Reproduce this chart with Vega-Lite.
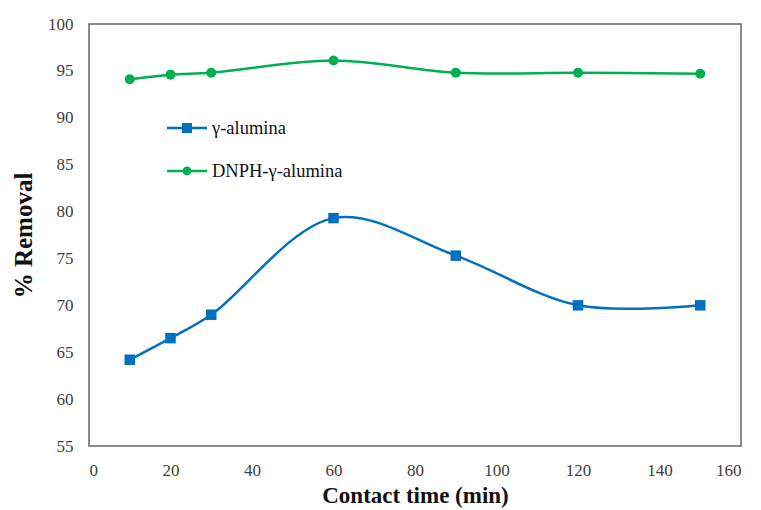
{
  "$schema": "https://vega.github.io/schema/vega-lite/v6.json",
  "width": 652,
  "height": 422,
  "autosize": "none",
  "padding": {"left": 89, "top": 24, "right": 20, "bottom": 64},
  "background": "white",
  "config": {
    "font": "Liberation Serif",
    "view": {"stroke": "#666666", "strokeWidth": 1.5},
    "axis": {"grid": false, "domain": false, "ticks": false, "tickSize": 0, "labelFont": "Liberation Serif", "labelFontSize": 17, "labelColor": "#404040", "titleFont": "Liberation Serif", "titleFontWeight": "bold", "titleColor": "#111111"}
  },
  "data": {
    "values": [
      {"t": 10, "r": 64.2, "s": "γ-alumina"},
      {"t": 20, "r": 66.5, "s": "γ-alumina"},
      {"t": 30, "r": 69.0, "s": "γ-alumina"},
      {"t": 60, "r": 79.3, "s": "γ-alumina"},
      {"t": 90, "r": 75.3, "s": "γ-alumina"},
      {"t": 120, "r": 70.0, "s": "γ-alumina"},
      {"t": 150, "r": 70.0, "s": "γ-alumina"},
      {"t": 10, "r": 94.1, "s": "DNPH-γ-alumina"},
      {"t": 20, "r": 94.6, "s": "DNPH-γ-alumina"},
      {"t": 30, "r": 94.8, "s": "DNPH-γ-alumina"},
      {"t": 60, "r": 96.1, "s": "DNPH-γ-alumina"},
      {"t": 90, "r": 94.8, "s": "DNPH-γ-alumina"},
      {"t": 120, "r": 94.8, "s": "DNPH-γ-alumina"},
      {"t": 150, "r": 94.7, "s": "DNPH-γ-alumina"}
    ]
  },
  "encoding": {
    "x": {"field": "t", "type": "quantitative", "title": "Contact time (min)", "scale": {"domain": [0, 160], "nice": false}, "axis": {"values": [0, 20, 40, 60, 80, 100, 120, 140, 160], "labelPadding": 16, "titleFontSize": 23, "titlePadding": 6}},
    "y": {"field": "r", "type": "quantitative", "title": "% Removal", "scale": {"domain": [55, 100], "nice": false, "zero": false}, "axis": {"values": [55, 60, 65, 70, 75, 80, 85, 90, 95, 100], "labelPadding": 16, "titleFontSize": 25, "titlePadding": 11}},
    "color": {"field": "s", "type": "nominal", "scale": {"domain": ["γ-alumina", "DNPH-γ-alumina"], "range": ["#0070C0", "#00B050"]},
      "legend": {
        "title": null, "orient": "none", "legendX": 78, "legendY": 84,
        "symbolSize": 1600, "labelFontSize": 18.5, "labelFont": "Liberation Serif", "labelColor": "#111111", "labelOffset": 5, "rowPadding": 13,
        "encode": {"symbols": {"update": {
          "shape": {"signal": "datum.value === 'γ-alumina' ? 'M-1,-0.06H-0.25V0.06H-1Z M0.25,-0.06H1V0.06H0.25Z M-0.25,-0.25H0.25V0.25H-0.25Z' : 'M-1,-0.06H-0.22V0.06H-1Z M0.22,-0.06H1V0.06H0.22Z M-0.22,0A0.22,0.22 0 1,0 0.22,0A0.22,0.22 0 1,0 -0.22,0Z'"},
          "fill": {"scale": "color", "field": "value"},
          "stroke": {"value": "transparent"},
          "strokeWidth": {"value": 0},
          "opacity": {"value": 1}
        }}}
      }}
  },
  "layer": [
    {
      "mark": {"type": "line", "interpolate": "catmull-rom", "strokeWidth": 2.5}
    },
    {
      "transform": [{"filter": "datum.s === 'γ-alumina'"}],
      "mark": {"type": "point", "shape": "square", "filled": true, "opacity": 1, "size": 110}
    },
    {
      "transform": [{"filter": "datum.s === 'DNPH-γ-alumina'"}],
      "mark": {"type": "point", "shape": "circle", "filled": true, "opacity": 1, "size": 100}
    }
  ]
}
